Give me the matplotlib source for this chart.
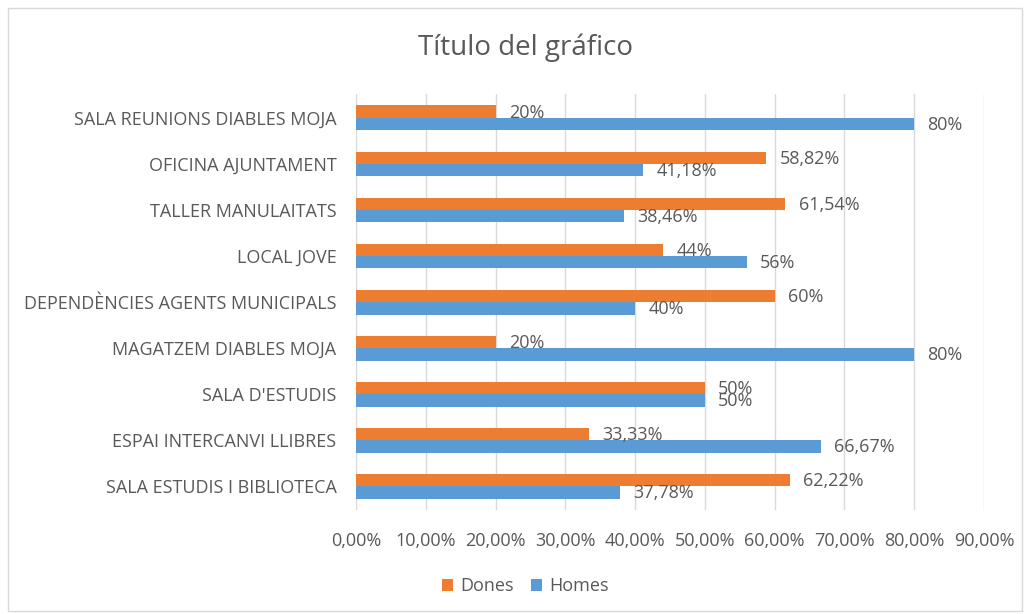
import numpy as np
import matplotlib
matplotlib.use("Agg")
import matplotlib.pyplot as plt
from matplotlib.patches import Rectangle
from matplotlib.ticker import FuncFormatter

plt.rcParams['font.family'] = ['Open Sans', 'DejaVu Sans']

# top to bottom as in the chart
categories = ["SALA REUNIONS DIABLES MOJA", "OFICINA AJUNTAMENT", "TALLER MANULAITATS",
              "LOCAL JOVE", "DEPENDÈNCIES AGENTS MUNICIPALS", "MAGATZEM DIABLES MOJA",
              "SALA D'ESTUDIS", "ESPAI INTERCANVI LLIBRES", "SALA ESTUDIS I BIBLIOTECA"]
dones = [20, 58.82, 61.54, 44, 60, 20, 50, 33.33, 62.22]
homes = [80, 41.18, 38.46, 56, 40, 80, 50, 66.67, 37.78]

orange = "#ED7D31"
blue = "#5B9BD5"
txt = "#595959"

def fmt_label(v):
    if float(v).is_integer():
        return "%d%%" % v
    return ("%.2f%%" % v).replace(".", ",")

fig = plt.figure(figsize=(10.26, 6.14), dpi=100)
ax = fig.add_axes([0.347, 0.169, 0.612, 0.678])

n = len(categories)
y = np.arange(n)[::-1]
h = 0.27
ax.barh(y + h / 2, dones, height=h, color=orange, label="Dones", zorder=3)
ax.barh(y - h / 2, homes, height=h, color=blue, label="Homes", zorder=3)

for yi, d, m in zip(y, dones, homes):
    ax.text(d + 1.9, yi + h / 2 - 0.02, fmt_label(d), va="center", ha="left", fontsize=13, color=txt, zorder=4)
    ax.text(m + 1.9, yi - h / 2 - 0.02, fmt_label(m), va="center", ha="left", fontsize=13, color=txt, zorder=4)

ax.set_xlim(0, 90)
ax.set_ylim(-0.52, n - 0.48)
ax.set_xticks(np.arange(0, 91, 10))
ax.xaxis.set_major_formatter(FuncFormatter(lambda v, p: ("%.2f%%" % v).replace(".", ",")))
ax.set_yticks(y)
ax.set_yticklabels(categories)
ax.tick_params(axis="both", length=0, labelsize=13, labelcolor=txt)
ax.tick_params(axis="y", pad=14)
ax.tick_params(axis="x", pad=16)
ax.grid(axis="x", color="#D9D9D9", linewidth=1, zorder=0)
for s in ax.spines.values():
    s.set_visible(False)

fig.suptitle("Título del gráfico", x=0.512, y=0.945, fontsize=20, color=txt)

leg = fig.legend(loc="center", bbox_to_anchor=(0.512, 0.045), ncol=2, frameon=False,
                 fontsize=13, handlelength=0.6, handleheight=0.6, handletextpad=0.4,
                 columnspacing=1.0)
for t in leg.get_texts():
    t.set_color(txt)

fig.patches.append(Rectangle((0.008, 0.005), 0.988, 0.982, transform=fig.transFigure,
                             fill=False, edgecolor="#D9D9D9", linewidth=1))

fig.savefig("out.png", dpi=100)
